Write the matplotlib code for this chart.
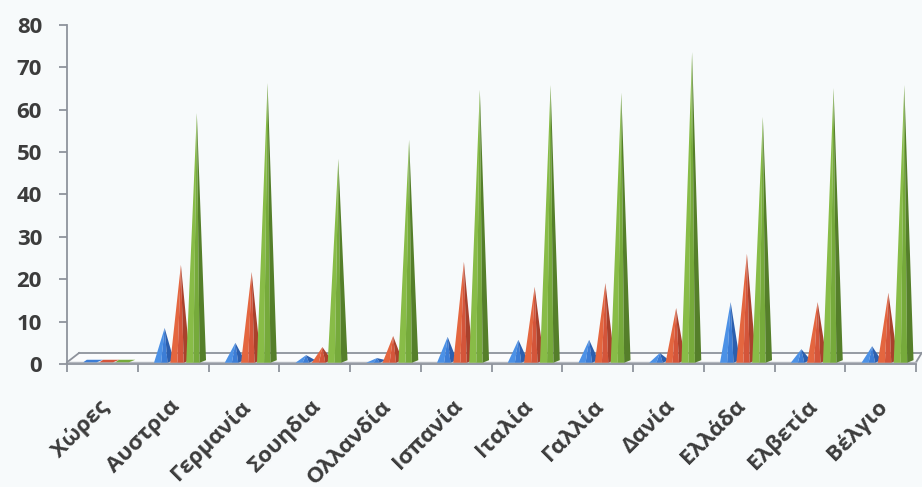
import numpy as np
import matplotlib
matplotlib.use("Agg")
import matplotlib.pyplot as plt
from matplotlib.patches import Polygon

plt.rcParams['font.family'] = ['Open Sans', 'DejaVu Sans']

# Categories and the three series
countries = ["Χώρες", "Αυστρια", "Γερμανία", "Σουηδια", "Ολλανδία", "Ισπανία",
             "Ιταλία", "Γαλλία", "Δανία", "Ελλάδα", "Ελβετία", "Βέλγιο"]
blue_vals = [0, 8.5, 5.0, 2.1, 1.4, 6.4, 5.7, 5.7, 2.6, 14.6, 3.5, 4.2]
red_vals = [0, 23.4, 21.7, 4.0, 6.6, 24.1, 18.2, 19.1, 13.2, 26.0, 14.6, 16.8]
green_vals = [0, 59.2, 66.3, 48.4, 52.9, 64.7, 65.8, 64.0, 73.6, 58.3, 65.1, 65.8]
y_ticks = [0, 10, 20, 30, 40, 50, 60, 70, 80]

series = [
    (blue_vals, -0.12, ("#4c91e6", "#3c7dd6", "#2c5fae")),
    (red_vals, 0.11, ("#e4663f", "#d4553a", "#a9412c")),
    (green_vals, 0.335, ("#88bc47", "#76aa3b", "#557f2a")),
]

AXIS = "#8e939c"
TEXT = "#3c3c3c"

fig = plt.figure(figsize=(9.22, 4.87), dpi=100, facecolor="#f7fafb")
ax = fig.add_axes([67 / 922, (487 - 364) / 487, (916 - 67) / 922, (364 - 25) / 487])
ax.set_facecolor("none")
ax.set_xlim(-0.5, 11.5)
ax.set_ylim(0, 80)

# 3D-looking floor
floor = [(-0.5, 0.0), (11.5, 0.0), (11.58, 2.6), (-0.33, 2.6)]
ax.add_patch(Polygon(floor, closed=True, facecolor="#fbfcfd", edgecolor="none",
                     clip_on=False, zorder=1))
ax.plot([-0.33, 11.58], [2.6, 2.6], color=AXIS, lw=1.3, clip_on=False, zorder=2)
ax.plot([-0.5, -0.33], [0.4, 2.6], color=AXIS, lw=1.3, clip_on=False, zorder=2)
ax.plot([11.5, 11.58], [0.4, 2.6], color=AXIS, lw=1.3, clip_on=False, zorder=2)
ax.plot([-0.5, 11.5], [0.5, 0.5], color="#b3b7be", lw=1.0, clip_on=False, zorder=2)


def pyramid(ax, apex_x, h, cols):
    left = apex_x - 0.15
    split = apex_x - 0.05
    mid = apex_x + 0.04
    right = apex_x + 0.13
    if h <= 0:
        slab = [(left, 0.4), (mid, 0.4), (right, 1.0), (left + 0.05, 1.0)]
        ax.add_patch(Polygon(slab, closed=True, facecolor=cols[1], edgecolor="none",
                             zorder=3, clip_on=False))
        return
    ax.add_patch(Polygon([(left, 0.3), (split, 0.3), (apex_x, h)], closed=True,
                         facecolor=cols[0], edgecolor="none", zorder=3, clip_on=False))
    ax.add_patch(Polygon([(split, 0.3), (mid, 0.3), (apex_x, h)], closed=True,
                         facecolor=cols[1], edgecolor="none", zorder=3, clip_on=False))
    ax.add_patch(Polygon([(mid, 0.3), (right, 0.9), (apex_x, h)], closed=True,
                         facecolor=cols[2], edgecolor="none", zorder=3, clip_on=False))


for i in range(len(countries)):
    for vals, off, cols in series:
        pyramid(ax, i + off, vals[i], cols)

# Axes styling
for side in ("top", "right"):
    ax.spines[side].set_visible(False)
for side in ("left", "bottom"):
    ax.spines[side].set_color(AXIS)
    ax.spines[side].set_linewidth(1.3)
    ax.spines[side].set_zorder(2)

ax.set_yticks(y_ticks)
ax.set_yticklabels([str(v) for v in y_ticks])
ax.tick_params(axis="y", direction="out", length=6, width=1.3, color=AXIS,
               pad=12, labelsize=16, labelcolor=TEXT)
for lab in ax.get_yticklabels():
    lab.set_fontweight("bold")

ax.set_xticks(np.arange(-0.5, 12, 1.0))
ax.set_xticklabels([])
ax.tick_params(axis="x", direction="out", length=6, width=1.3, color=AXIS)

for i, name in enumerate(countries):
    ax.annotate(name, xy=(i, 0), xycoords="data", xytext=(-3, -23),
                textcoords="offset points", rotation=45, ha="right", va="top",
                rotation_mode="anchor", fontsize=16, fontweight="bold",
                color=TEXT, annotation_clip=False)

fig.savefig("out.png", dpi=100, facecolor=fig.get_facecolor())
